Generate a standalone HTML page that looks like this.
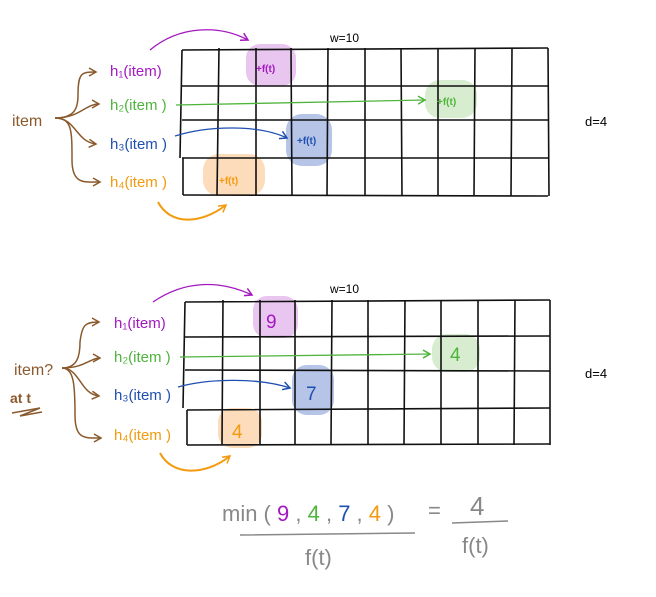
<!DOCTYPE html>
<html><head><style>body{margin:0;background:#fff}svg{display:block}</style></head><body>
<svg width="656" height="597" viewBox="0 0 656 597" xmlns="http://www.w3.org/2000/svg" font-family="Liberation Sans, sans-serif">
<defs>
<marker id="a" markerWidth="10" markerHeight="10" refX="8" refY="5" orient="auto" markerUnits="userSpaceOnUse"><path d="M1,1 L8,5 L1,9" fill="none" stroke="context-stroke" stroke-width="1.5"/></marker>
</defs>
<g>
<rect x="246" y="44" width="50" height="42" rx="14" fill="#e8c6ef"/>
<rect x="425" y="80" width="52" height="38" rx="15" fill="#d8edd0"/>
<rect x="286" y="114" width="46" height="52" rx="16" fill="#b6c4e8"/>
<rect x="203" y="154" width="62" height="42" rx="16" fill="#fcdcba"/>
<g stroke="#111" stroke-width="1.6" fill="none">
<path d="M182,50 L548,48 M182,86 L548,86 M182,120 L548,120 M182,158 L548,158 M183,195 L548,196"/>
<path d="M182,50 L180,158 M183,158 L183,195 M219,48 L217,195 M256,48 L256,196 M291,48 L292,196 M328,48 L327,196 M365,48 L365,196 M401,48 L402,196 M438,48 L438,196 M475,48 L474,196 M512,48 L511,196 M548,48 L549,196"/>
</g>
<g font-size="15">
<text x="110" y="76" fill="#a318c0">h₁(item)</text>
<text x="110" y="110" fill="#4fb43c">h₂(item )</text>
<text x="110" y="149" fill="#1f4fb0">h₃(item )</text>
<text x="110" y="187" fill="#f39a0e">h₄(item )</text>
<text x="12" y="126" fill="#8a5a2c" font-size="16">item</text>
</g>
<g stroke="#8a5a2c" stroke-width="1.5" fill="none">
<path d="M55,118 C75,118 78,108 78,95 C78,72 82,72 96,72" marker-end="url(#a)"/>
<path d="M55,118 C80,118 85,104 99,104" marker-end="url(#a)"/>
<path d="M55,118 C76,118 76,142 96,144" marker-end="url(#a)"/>
<path d="M55,118 C72,118 72,130 72,160 C72,185 85,182 100,182" marker-end="url(#a)"/>
</g>
<path d="M150,50 C180,25 220,25 248,40" stroke="#a318c0" stroke-width="1.3" fill="none" marker-end="url(#a)"/>
<path d="M176,105 L425,100" stroke="#4fb43c" stroke-width="1.3" fill="none" marker-end="url(#a)"/>
<path d="M175,136 C210,125 260,125 287,138" stroke="#1f4fb0" stroke-width="1.3" fill="none" marker-end="url(#a)"/>
<path d="M158,202 C170,225 200,225 226,205" stroke="#f39a0e" stroke-width="2" fill="none" marker-end="url(#a)"/>
<g font-size="10" font-weight="bold">
<text x="256" y="72" fill="#a318c0">+f(t)</text>
<text x="437" y="105" fill="#4fb43c">+f(t)</text>
<text x="297" y="144" fill="#1f4fb0">+f(t)</text>
<text x="219" y="184" fill="#f39a0e">+f(t)</text>
</g>
<text x="330" y="42" font-size="12">w=10</text>
<text x="585" y="126" font-size="13">d=4</text>
</g>
<g>
<rect x="253" y="296" width="45" height="42" rx="14" fill="#e8c6ef"/>
<rect x="432" y="334" width="48" height="38" rx="15" fill="#d8edd0"/>
<rect x="292" y="365" width="42" height="50" rx="15" fill="#b6c4e8"/>
<rect x="218" y="408" width="44" height="40" rx="14" fill="#fcdcba"/>
<g stroke="#111" stroke-width="1.6" fill="none">
<path d="M185,302 L550,300 M185,337 L550,336 M185,370 L550,371 M187,410 L550,408 M187,445 L550,444"/>
<path d="M185,302 L183,408 M187,410 L187,445 M223,300 L222,445 M260,300 L260,445 M295,300 L295,445 M332,300 L331,445 M368,300 L368,445 M405,300 L404,445 M441,300 L441,445 M478,300 L478,445 M515,300 L514,445 M550,300 L550,445"/>
</g>
<g font-size="15">
<text x="114" y="328" fill="#a318c0">h₁(item)</text>
<text x="114" y="362" fill="#4fb43c">h₂(item )</text>
<text x="114" y="400" fill="#1f4fb0">h₃(item )</text>
<text x="114" y="440" fill="#f39a0e">h₄(item )</text>
<text x="14" y="375" fill="#8a5a2c" font-size="16">item?</text>
<text x="10" y="403" fill="#8a5a2c" font-size="14" font-weight="bold">at t</text>
</g>
<path d="M12,413 L40,408 L20,416 L42,412" stroke="#8a5a2c" stroke-width="1.5" fill="none"/>
<g stroke="#8a5a2c" stroke-width="1.5" fill="none">
<path d="M62,368 C78,368 80,355 80,342 C82,325 85,322 99,322" marker-end="url(#a)"/>
<path d="M62,368 C85,368 90,358 100,358" marker-end="url(#a)"/>
<path d="M62,368 C80,368 80,394 99,396" marker-end="url(#a)"/>
<path d="M62,368 C74,368 75,385 75,415 C75,440 85,438 101,438" marker-end="url(#a)"/>
</g>
<path d="M153,302 C185,280 220,280 252,295" stroke="#a318c0" stroke-width="1.3" fill="none" marker-end="url(#a)"/>
<path d="M180,357 L430,354" stroke="#4fb43c" stroke-width="1.3" fill="none" marker-end="url(#a)"/>
<path d="M178,387 C210,378 260,378 290,388" stroke="#1f4fb0" stroke-width="1.3" fill="none" marker-end="url(#a)"/>
<path d="M160,453 C172,476 205,476 230,456" stroke="#f39a0e" stroke-width="2" fill="none" marker-end="url(#a)"/>
<g font-size="19">
<text x="266" y="328" fill="#a318c0">9</text>
<text x="450" y="361" fill="#4fb43c">4</text>
<text x="306" y="400" fill="#1f4fb0">7</text>
<text x="232" y="438" fill="#f39a0e">4</text>
</g>
<text x="330" y="293" font-size="12">w=10</text>
<text x="585" y="378" font-size="13">d=4</text>
</g>
<g font-size="22" fill="#888">
<text x="222" y="521">min ( <tspan fill="#a318c0">9</tspan> , <tspan fill="#4fb43c">4</tspan> , <tspan fill="#1f4fb0">7</tspan> , <tspan fill="#f39a0e">4</tspan> )</text>
<text x="428" y="518">=</text>
<text x="470" y="515" font-size="26">4</text>
<text x="305" y="565">f(t)</text>
<text x="462" y="553">f(t)</text>
</g>
<path d="M240,535 L415,533 M452,523 L508,521" stroke="#888" stroke-width="1.5"/>
</svg>
</body></html>
